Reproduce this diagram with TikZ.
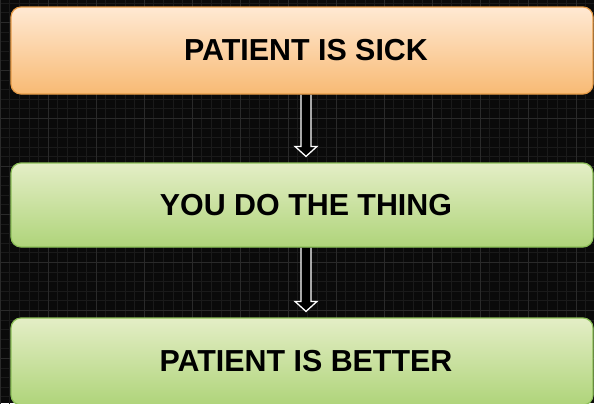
\documentclass[tikz,border=0pt]{standalone}
\usepackage{fontspec}
\setmainfont{Liberation Sans}
\usetikzlibrary{calc, backgrounds}
\definecolor{sicktop}{HTML}{FFE9D3}
\definecolor{sickbottom}{HTML}{F8BA74}
\definecolor{sickline}{HTML}{E79C48}
\definecolor{welltop}{HTML}{E4EEC6}
\definecolor{wellbottom}{HTML}{AFD47A}
\definecolor{wellline}{HTML}{8CBF58}
\definecolor{gridminor}{HTML}{1A1A1A}
\definecolor{gridmajor}{HTML}{2A2A2A}
\tikzset{
	stepbox/.style={
			rectangle, rounded corners=10bp, line width=1.2bp,
			minimum width=582bp, minimum height=#1,
			font=\bfseries\fontsize{30.5}{33}\selectfont,
			% label sits a little right of the box centre
			execute at begin node=\hspace*{8bp}
		}
}
\tikzset{
	sickbox/.style={stepbox=87bp, draw=sickline, top color=sicktop, bottom color=sickbottom}
}
\tikzset{
	wellbox/.style={stepbox=#1, draw=wellline, top color=welltop, bottom color=wellbottom}
}
\tikzset{
	hollowarrow/.style={draw=white, fill=black, line width=1.3bp, line join=miter}
}

\begin{document}
\begin{tikzpicture}[x=1bp, y=-1bp]

	\useasboundingbox (0,0) rectangle (594,403);

	% boxes
	\node[sickbox] (sick) at (302,50.5) {PATIENT IS SICK};
	\node[wellbox=84bp] (thing) at (302,205) {YOU DO THE THING};
	\node[wellbox=87bp] (better) at (302,361.5) {PATIENT IS BETTER};

	\begin{scope}[on background layer]
		\fill[black!96] (0,0) rectangle (594,403);
		\draw[gridminor, line width=0.6bp, xstep=9.6bp, ystep=9.6bp, shift={(0,3)}] (0,-3) grid (594,403);
		\draw[gridmajor, line width=0.7bp, xstep=48bp, ystep=48bp, shift={(0,22)}] (0,-22) grid (594,403);
	\end{scope}

	% hollow arrows between the boxes
	\begin{scope}[on background layer]
		\draw[hollowarrow] ($(sick.south)+(-1,0)$) |- ($(thing.north)+(-7,-16)$)
			-- ($(thing.north)+(4,-6)$) -- ($(thing.north)+(15,-16)$) -| ($(sick.south)+(9,0)$);
		\draw[hollowarrow] ($(thing.south)+(-1,0)$) |- ($(better.north)+(-7,-16)$)
			-- ($(better.north)+(4,-6)$) -- ($(better.north)+(15,-16)$) -| ($(thing.south)+(9,0)$);
	\end{scope}

\end{tikzpicture}
\end{document}
